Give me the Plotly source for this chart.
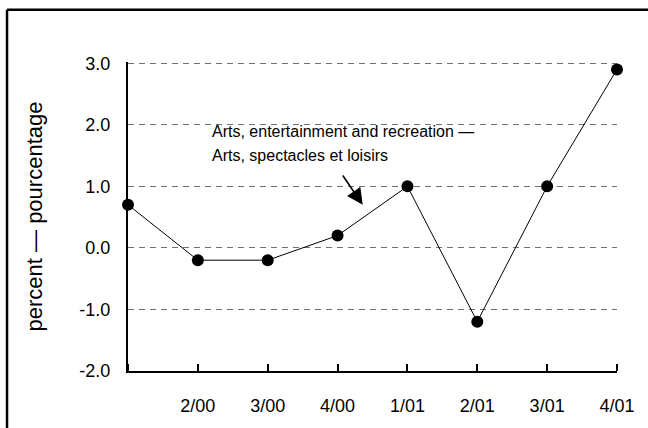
import plotly.graph_objects as go

quarters = ["1/00", "2/00", "3/00", "4/00", "1/01", "2/01", "3/01", "4/01"]
tick_labels = ["", "2/00", "3/00", "4/00", "1/01", "2/01", "3/01", "4/01"]
values = [0.7, -0.2, -0.2, 0.2, 1.0, -1.2, 1.0, 2.9]
y_ticks = [-2, -1, 0, 1, 2, 3]
y_tick_labels = ["-2.0", "-1.0", "0.0", "1.0", "2.0", "3.0"]
label_line1 = "Arts, entertainment and recreation —"
label_line2 = "Arts, spectacles et loisirs"
y_title = "percent — pourcentage"

FONT = "Arial, Liberation Sans, sans-serif"
positions = list(range(len(quarters)))

fig = go.Figure()
fig.add_trace(go.Scatter(
    x=positions, y=values, mode="lines+markers",
    text=quarters,
    line=dict(color="black", width=1),
    marker=dict(color="black", size=12),
    cliponaxis=False, showlegend=False,
))

fig.update_layout(
    width=648, height=428,
    margin=dict(l=128, r=31, t=62, b=57),
    paper_bgcolor="white", plot_bgcolor="white",
    font=dict(family=FONT, size=18, color="black"),
    xaxis=dict(
        range=[0, len(quarters) - 1],
        tickmode="array", tickvals=positions, ticktext=tick_labels,
        ticks="outside", ticklen=17, tickcolor="rgba(0,0,0,0)",
        minor=dict(tickmode="array", tickvals=positions, ticks="inside",
                   ticklen=7, tickwidth=2, tickcolor="black", showgrid=False),
        showline=True, linecolor="black", linewidth=2,
        showgrid=False, zeroline=False,
        tickfont=dict(size=18),
    ),
    yaxis=dict(
        range=[-2, 3.02],
        tickmode="array", tickvals=y_ticks, ticktext=y_tick_labels,
        ticks="", showline=True, linecolor="black", linewidth=2,
        showgrid=True, gridcolor="#707070", griddash="6px,5px", gridwidth=1,
        zeroline=False,
        ticklabelstandoff=12,
        tickfont=dict(size=18),
        title=dict(text=y_title, standoff=31, font=dict(size=22)),
    ),
)

fig.add_annotation(
    x=1.17, y=1.89, xref="x", yref="y",
    text=label_line1, showarrow=False,
    xanchor="left", yanchor="middle", font=dict(size=16),
)
fig.add_annotation(
    x=1.17, y=1.50, xref="x", yref="y",
    text=label_line2, showarrow=False,
    xanchor="left", yanchor="middle", font=dict(size=16),
)
fig.add_annotation(
    x=3.36, y=0.70, ax=3.06, ay=1.20, xref="x", yref="y", axref="x", ayref="y",
    text="", showarrow=True, arrowhead=2, arrowsize=2, arrowwidth=1.6, arrowcolor="black",
)

# outer frame (left and top edges; right and bottom fall outside the picture)
fig.add_shape(type="line", xref="paper", yref="paper",
              x0=-0.2474, x1=-0.2474, y0=-0.4, y1=1.169,
              line=dict(color="black", width=2.5))
fig.add_shape(type="line", xref="paper", yref="paper",
              x0=-0.2474, x1=1.07, y0=1.169, y1=1.169,
              line=dict(color="black", width=2.5))

fig.write_html(
    "out.html",
    config={"displayModeBar": False},
    post_script=(
        "document.documentElement.style.overflow='hidden';"
        "document.body.style.margin='0';document.body.style.overflow='hidden';"
    ),
)
